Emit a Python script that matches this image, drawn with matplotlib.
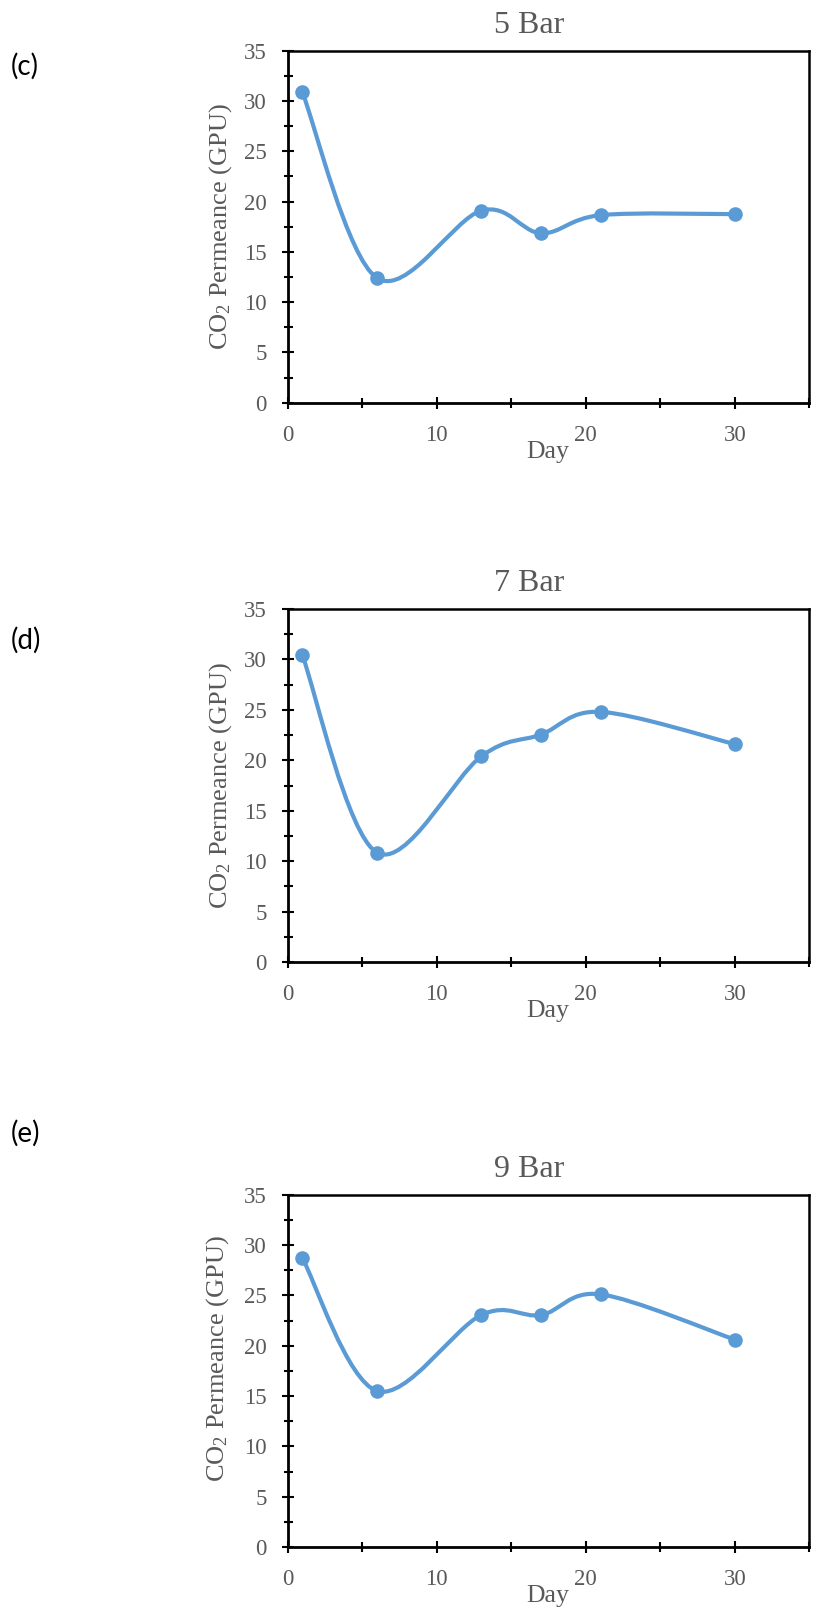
import matplotlib
matplotlib.use('Agg')
import matplotlib.pyplot as plt
from matplotlib.path import Path
from matplotlib.patches import PathPatch
from matplotlib.ticker import MultipleLocator, FixedLocator

# ---- data ----
days = [1, 6, 13, 17, 21, 30]
perm_5bar = [30.85, 12.4, 19.1, 16.85, 18.65, 18.75]
perm_7bar = [30.4, 10.85, 20.4, 22.55, 24.8, 21.6]
perm_9bar = [28.7, 15.5, 23.05, 23.05, 25.1, 20.6]
titles = ['5 Bar', '7 Bar', '9 Bar']
panel_labels = ['(c)', '(d)', '(e)']
x_major_ticks = [0, 10, 20, 30]
x_minor_ticks = [5, 15, 25, 35]
y_major_ticks = [0, 5, 10, 15, 20, 25, 30, 35]
x_label = 'Day'
y_label = 'CO$_2$ Permeance (GPU)'

plt.rcParams['font.family'] = ['Liberation Serif', 'DejaVu Serif']
plt.rcParams['mathtext.fontset'] = 'custom'
plt.rcParams['mathtext.rm'] = 'Liberation Serif'
plt.rcParams['mathtext.it'] = 'Liberation Serif:italic'
plt.rcParams['mathtext.default'] = 'regular'

W, H = 816, 1611
DPI = 100
fig = plt.figure(figsize=(W / DPI, H / DPI), dpi=DPI)

LINE_C = '#5B9BD5'
TXT_C = '#595959'
PX = 72.0 / DPI  # points per pixel

ax_left, ax_right = 287.5, 809.5
panels = [
    dict(top=50.7, bottom=402.7, ylab_x=221, ylab_y=226.5, plab_y=66),
    dict(top=609.0, bottom=962.0, ylab_x=221, ylab_y=785.5, plab_y=640),
    dict(top=1194.7, bottom=1547.0, ylab_x=218, ylab_y=1359, plab_y=1133),
]
series = [perm_5bar, perm_7bar, perm_9bar]


def smooth_path(xs, ys):
    pts = list(zip(xs, ys))
    n = len(pts)
    verts = [pts[0]]
    codes = [Path.MOVETO]
    for i in range(n - 1):
        p0 = pts[i - 1] if i > 0 else pts[i]
        p1 = pts[i]
        p2 = pts[i + 1]
        p3 = pts[i + 2] if i + 2 < n else pts[i + 1]
        c1 = (p1[0] + (p2[0] - p0[0]) / 6.0, p1[1] + (p2[1] - p0[1]) / 6.0)
        c2 = (p2[0] - (p3[0] - p1[0]) / 6.0, p2[1] - (p3[1] - p1[1]) / 6.0)
        verts += [c1, c2, p2]
        codes += [Path.CURVE4, Path.CURVE4, Path.CURVE4]
    return Path(verts, codes)


for k, (pan, vals) in enumerate(zip(panels, series)):
    left = ax_left / W
    width = (ax_right - ax_left) / W
    bottom = 1 - pan['bottom'] / H
    height = (pan['bottom'] - pan['top']) / H
    ax = fig.add_axes([left, bottom, width, height])
    ax.set_xlim(0, 35)
    ax.set_ylim(0, 35)

    patch = PathPatch(smooth_path(days, vals), facecolor='none',
                      edgecolor=LINE_C, lw=3.0, capstyle='round',
                      joinstyle='round', zorder=3)
    ax.add_patch(patch)
    ax.plot(days, vals, linestyle='none', marker='o', markersize=10.5,
            color=LINE_C, markeredgewidth=0, zorder=4)

    ax.xaxis.set_major_locator(FixedLocator(x_major_ticks))
    ax.xaxis.set_minor_locator(FixedLocator(x_minor_ticks))
    ax.yaxis.set_major_locator(FixedLocator(y_major_ticks))
    ax.yaxis.set_minor_locator(MultipleLocator(2.5))

    ax.tick_params(axis='x', which='major', direction='inout', length=12 * PX,
                   width=1.5, color='black', labelsize=16.5, labelcolor=TXT_C,
                   pad=11.5, top=False)
    ax.tick_params(axis='x', which='minor', direction='inout', length=10 * PX,
                   width=1.5, color='black', top=False)
    ax.tick_params(axis='y', which='major', direction='inout', length=12 * PX,
                   width=1.5, color='black', labelsize=16.5, labelcolor=TXT_C,
                   pad=10.5, right=False)
    ax.tick_params(axis='y', which='minor', direction='inout', length=9 * PX,
                   width=1.5, color='black', right=False)

    for side in ['left', 'bottom']:
        ax.spines[side].set_linewidth(2.0)
        ax.spines[side].set_color('black')
    for side in ['top', 'right']:
        ax.spines[side].set_linewidth(1.8)
        ax.spines[side].set_color('black')

    # title
    ax.annotate(titles[k], xy=((529 - ax_left) / (ax_right - ax_left), 1),
                xycoords='axes fraction', xytext=(0, 18 * PX),
                textcoords='offset points', ha='center', va='baseline',
                fontsize=23, color=TXT_C)
    # x label
    ax.annotate(x_label, xy=((548 - ax_left) / (ax_right - ax_left), 0),
                xycoords='axes fraction', xytext=(0, -55 * PX),
                textcoords='offset points', ha='center', va='baseline',
                fontsize=18.5, color=TXT_C)
    # y label
    fig.text(pan['ylab_x'] / W, 1 - pan['ylab_y'] / H, y_label,
             rotation=90, ha='center', va='center', fontsize=19, color=TXT_C)
    # panel label
    fig.text(11 / W, 1 - pan['plab_y'] / H, panel_labels[k], ha='left',
             va='center', fontsize=20, color='black',
             family=['Lato', 'DejaVu Sans'])

fig.savefig('out.png', dpi=DPI)
